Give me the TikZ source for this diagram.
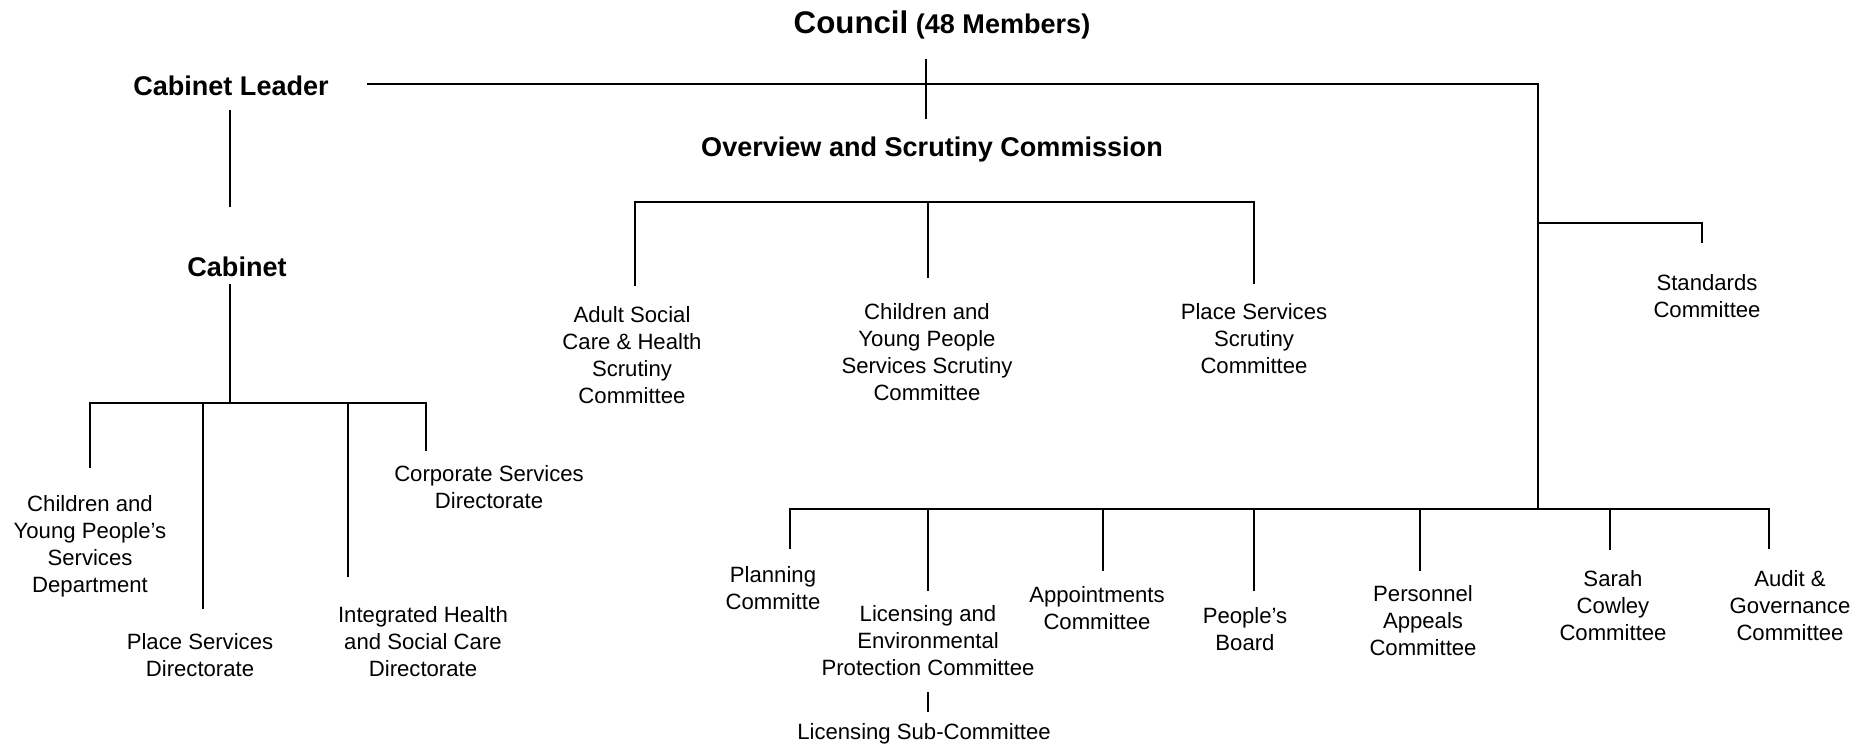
\documentclass[tikz,border=0pt]{standalone}
\usepackage{fontspec}
\setmainfont{Liberation Sans}
\usetikzlibrary{arrows.meta}

\begin{document}
\begin{tikzpicture}[x=0.02cm, y=-0.02cm, line width=1.1pt,
                    every node/.style={align=center, inner sep=0pt, font=\fontsize{12.6}{15.4}\selectfont},
                    head/.style={font=\bfseries\fontsize{15.4}{18}\selectfont}]
                    \useasboundingbox (0,0) rectangle (1872,749);

                    \begin{scope}
                		\node[head] (0) at (942, 25) {{\fontsize{17.8}{20}\selectfont Council} (48 Members)};
                		\node[head] (1) at (231, 86) {Cabinet Leader};
                		\node[head] (2) at (237, 267) {Cabinet};
                		\node[head] (3) at (932, 150) {Overview and Scrutiny Commission};
                		\node (4) at (926, 59) {};
                		\node (5) at (926, 119) {};
                		\node (6) at (367, 84) {};
                		\node (7) at (1538, 84) {};
                		\node (8) at (1538, 509) {};
                		\node (9) at (1538, 223) {};
                		\node (10) at (1702, 223) {};
                		\node (11) at (1702, 243) {};
                		\node (12) at (1707, 296) {Standards\\Committee};
                		\node (13) at (230, 110) {};
                		\node (14) at (230, 207) {};
                		\draw (4.center) to (5.center);
                		\draw (6.center) to (7.center) to (8.center);
                		\draw (9.center) to (10.center) to (11.center);
                		\draw (13.center) to (14.center);
                    \end{scope}

                    \begin{scope}
                		\node (0) at (230, 284) {};
                		\node (1) at (230, 403) {};
                		\node (2) at (90, 403) {};
                		\node (3) at (426, 403) {};
                		\node (4) at (90, 468) {};
                		\node (5) at (203, 403) {};
                		\node (6) at (203, 609) {};
                		\node (7) at (348, 403) {};
                		\node (8) at (348, 577) {};
                		\node (9) at (426, 451) {};
                		\node (10) at (90, 546) {Children and\\Young People’s\\Services\\Department};
                		\node (11) at (200, 655) {Place Services\\Directorate};
                		\node (12) at (423, 642) {Integrated Health\\and Social Care\\Directorate};
                		\node (13) at (489, 487) {Corporate Services\\Directorate};
                		\draw (0.center) to (1.center);
                		\draw (4.center) to (2.center) to (3.center) to (9.center);
                		\draw (5.center) to (6.center);
                		\draw (7.center) to (8.center);
                    \end{scope}

                    \begin{scope}
                		\node (0) at (635, 202) {};
                		\node (1) at (1254, 202) {};
                		\node (2) at (635, 286) {};
                		\node (3) at (1254, 284) {};
                		\node (4) at (928, 202) {};
                		\node (5) at (928, 278) {};
                		\node (6) at (632, 355) {Adult Social\\Care \& Health\\Scrutiny\\Committee};
                		\node (7) at (927, 352) {Children and\\Young People\\Services Scrutiny\\Committee};
                		\node (8) at (1254, 339) {Place Services\\Scrutiny\\Committee};
                		\draw (2.center) to (0.center) to (1.center) to (3.center);
                		\draw (4.center) to (5.center);
                    \end{scope}

                    \begin{scope}
                		\node (0) at (790, 509) {};
                		\node (1) at (1769, 509) {};
                		\node (2) at (790, 549) {};
                		\node (3) at (1769, 549) {};
                		\node (4) at (928, 509) {};
                		\node (5) at (928, 591) {};
                		\node (6) at (1103, 509) {};
                		\node (7) at (1103, 571) {};
                		\node (8) at (1254, 509) {};
                		\node (9) at (1254, 591) {};
                		\node (10) at (1420, 509) {};
                		\node (11) at (1420, 571) {};
                		\node (12) at (1610, 509) {};
                		\node (13) at (1610, 550) {};
                		\node (14) at (928, 692) {};
                		\node (15) at (928, 712) {};
                		\node (16) at (773, 588) {Planning\\Committe};
                		\node (17) at (928, 641) {Licensing and\\Environmental\\Protection Committee};
                		\node (18) at (924, 734) {Licensing Sub-Committee};
                		\node (19) at (1097, 608) {Appointments\\Committee};
                		\node (20) at (1245, 629) {People’s\\Board};
                		\node (21) at (1423, 621) {Personnel\\Appeals\\Committee};
                		\node (22) at (1613, 606) {Sarah\\Cowley\\Committee};
                		\node (23) at (1790, 606) {Audit \&\\Governance\\Committee};
                		\draw (2.center) to (0.center) to (1.center) to (3.center);
                		\draw (4.center) to (5.center);
                		\draw (6.center) to (7.center);
                		\draw (8.center) to (9.center);
                		\draw (10.center) to (11.center);
                		\draw (12.center) to (13.center);
                		\draw (14.center) to (15.center);
                    \end{scope}
                \end{tikzpicture}
\end{document}
